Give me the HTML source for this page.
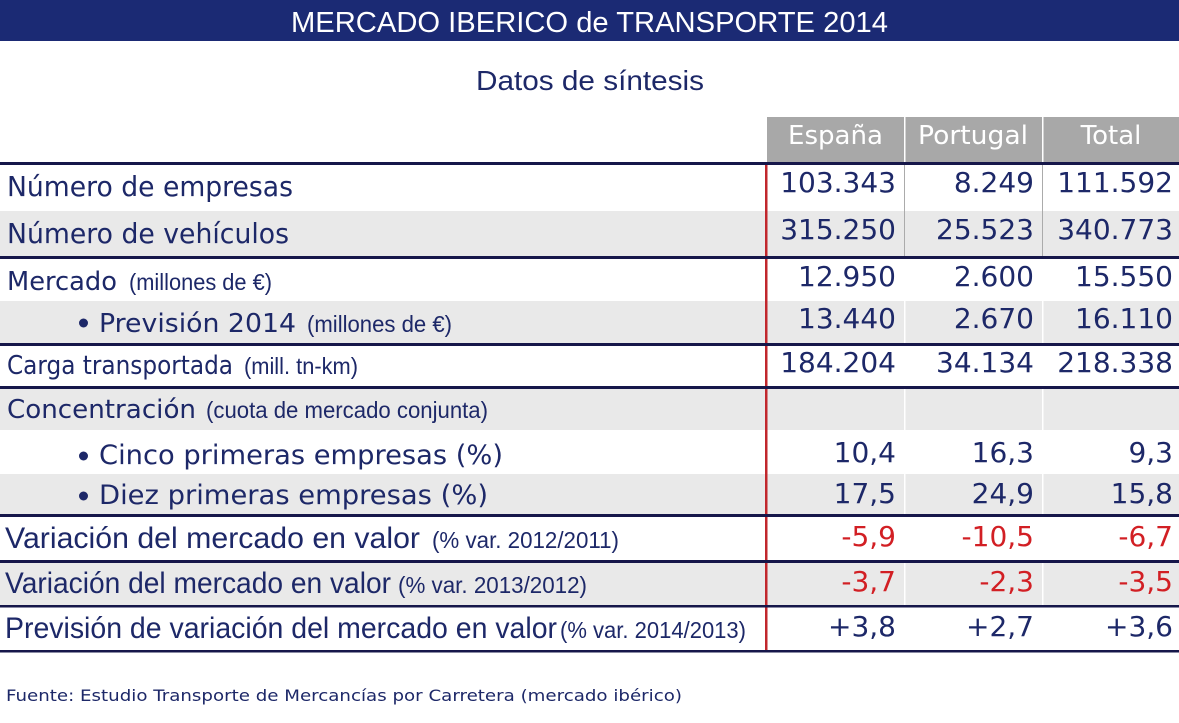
<!DOCTYPE html>
<html>
<head>
<meta charset="utf-8">
<style>
html,body{margin:0;padding:0;background:#fff;}
svg{display:block;}
.v{font-family:"DejaVu Sans","Liberation Sans",sans-serif;fill:#1d2868;}
.a{font-family:"Liberation Sans",sans-serif;fill:#1d2868;}
.n{font-family:"DejaVu Sans","Liberation Sans",sans-serif;fill:#1d2868;font-size:28px;}
.r{fill:#d21f24;}
.h{font-family:"DejaVu Sans","Liberation Sans",sans-serif;fill:#ffffff;font-size:26px;}
</style>
</head>
<body>
<svg width="1179" height="723" viewBox="0 0 1179 723" xmlns="http://www.w3.org/2000/svg">
<rect x="0" y="0" width="1179" height="723" fill="#ffffff"/>
<!-- title bar -->
<rect x="0" y="0" width="1179" height="41" fill="#1b2a74"/>
<text x="291" y="32" font-family="Liberation Sans, sans-serif" font-size="29" fill="#ffffff" textLength="597" lengthAdjust="spacingAndGlyphs">MERCADO IBERICO de TRANSPORTE 2014</text>
<text class="a" x="476" y="90" font-size="28" textLength="228" lengthAdjust="spacingAndGlyphs">Datos de síntesis</text>

<!-- header cells -->
<rect x="767" y="117" width="137" height="45" fill="#a8a8a8"/>
<rect x="905.5" y="117" width="136.5" height="45" fill="#a8a8a8"/>
<rect x="1043.5" y="117" width="135.5" height="45" fill="#a8a8a8"/>
<text class="h" x="788" y="144" textLength="95" lengthAdjust="spacingAndGlyphs">España</text>
<text class="h" x="918" y="144" textLength="110" lengthAdjust="spacingAndGlyphs">Portugal</text>
<text class="h" x="1111" y="144" text-anchor="middle" font-size="27">Total</text>

<!-- grey bands -->
<rect x="0" y="211" width="1179" height="45" fill="#e9e9e9"/>
<rect x="0" y="301" width="1179" height="42" fill="#e9e9e9"/>
<rect x="0" y="389" width="1179" height="41" fill="#e9e9e9"/>
<rect x="0" y="474" width="1179" height="40" fill="#e9e9e9"/>
<rect x="0" y="563" width="1179" height="42" fill="#e9e9e9"/>

<!-- column separators -->
<rect x="904" y="165" width="1" height="91" fill="#ababab"/>
<rect x="1042" y="165" width="1" height="91" fill="#ababab"/>
<rect x="904" y="259" width="1.5" height="391" fill="#ffffff"/>
<rect x="1042" y="259" width="1.5" height="391" fill="#ffffff"/>

<!-- red vertical -->
<rect x="765" y="162" width="2.5" height="490" fill="#c1272d"/>

<!-- thick lines -->
<g fill="#16174a">
<rect x="0" y="162" width="1179" height="3"/>
<rect x="0" y="256" width="1179" height="3"/>
<rect x="0" y="343" width="1179" height="3"/>
<rect x="0" y="386" width="1179" height="3"/>
<rect x="0" y="514" width="1179" height="3"/>
<rect x="0" y="560" width="1179" height="3"/>
<rect x="0" y="605" width="1179" height="2.5"/>
<rect x="0" y="650" width="1179" height="2.5"/>
</g>

<!-- labels -->
<text class="v" x="7" y="196" font-size="28" textLength="286" lengthAdjust="spacingAndGlyphs">Número de empresas</text>
<text class="v" x="7" y="243" font-size="28" textLength="282" lengthAdjust="spacingAndGlyphs">Número de vehículos</text>

<text class="v" x="7" y="290" font-size="26" textLength="110" lengthAdjust="spacingAndGlyphs">Mercado</text>
<text class="a" x="129" y="290" font-size="23" textLength="143" lengthAdjust="spacingAndGlyphs">(millones de €)</text>

<circle cx="83.5" cy="323" r="4.5" fill="#1d2868"/>
<text class="v" x="99" y="332" font-size="26" textLength="197" lengthAdjust="spacingAndGlyphs">Previsión 2014</text>
<text class="a" x="307" y="332" font-size="23" textLength="145" lengthAdjust="spacingAndGlyphs">(millones de €)</text>

<text class="v" x="7" y="374" font-size="26" textLength="226" lengthAdjust="spacingAndGlyphs">Carga transportada</text>
<text class="a" x="244" y="374" font-size="23" textLength="114" lengthAdjust="spacingAndGlyphs">(mill. tn-km)</text>

<text class="v" x="7" y="418" font-size="26" textLength="189" lengthAdjust="spacingAndGlyphs">Concentración</text>
<text class="a" x="206" y="418" font-size="23" textLength="282" lengthAdjust="spacingAndGlyphs">(cuota de mercado conjunta)</text>

<circle cx="83.5" cy="456" r="4.5" fill="#1d2868"/>
<text class="v" x="99" y="464" font-size="27" textLength="404" lengthAdjust="spacingAndGlyphs">Cinco primeras empresas (%)</text>
<circle cx="83.5" cy="496" r="4.5" fill="#1d2868"/>
<text class="v" x="99" y="504" font-size="27" textLength="389" lengthAdjust="spacingAndGlyphs">Diez primeras empresas (%)</text>

<text class="a" x="5" y="548" font-size="30" textLength="415" lengthAdjust="spacingAndGlyphs">Variación del mercado en valor</text>
<text class="a" x="432" y="548" font-size="23" textLength="187" lengthAdjust="spacingAndGlyphs">(% var. 2012/2011)</text>

<text class="a" x="5" y="593" font-size="30" textLength="386" lengthAdjust="spacingAndGlyphs">Variación del mercado en valor</text>
<text class="a" x="398" y="593" font-size="23" textLength="189" lengthAdjust="spacingAndGlyphs">(% var. 2013/2012)</text>

<text class="a" x="5" y="638" font-size="30" textLength="552" lengthAdjust="spacingAndGlyphs">Previsión de variación del mercado en valor</text>
<text class="a" x="560" y="638" font-size="23" textLength="186" lengthAdjust="spacingAndGlyphs">(% var. 2014/2013)</text>

<!-- numbers -->
<g class="n" text-anchor="end">
<text x="896" y="192">103.343</text>
<text x="1034" y="192">8.249</text>
<text x="1173" y="192">111.592</text>

<text x="896" y="239">315.250</text>
<text x="1034" y="239">25.523</text>
<text x="1173" y="239">340.773</text>

<text x="896" y="286">12.950</text>
<text x="1034" y="286">2.600</text>
<text x="1173" y="286">15.550</text>

<text x="896" y="328">13.440</text>
<text x="1034" y="328">2.670</text>
<text x="1173" y="328">16.110</text>

<text x="896" y="372">184.204</text>
<text x="1034" y="372">34.134</text>
<text x="1173" y="372">218.338</text>

<text x="896" y="462">10,4</text>
<text x="1034" y="462">16,3</text>
<text x="1173" y="462">9,3</text>

<text x="896" y="503">17,5</text>
<text x="1034" y="503">24,9</text>
<text x="1173" y="503">15,8</text>

<text class="r" x="896" y="546">-5,9</text>
<text class="r" x="1034" y="546">-10,5</text>
<text class="r" x="1173" y="546">-6,7</text>

<text class="r" x="896" y="591">-3,7</text>
<text class="r" x="1034" y="591">-2,3</text>
<text class="r" x="1173" y="591">-3,5</text>

<text x="896" y="636">+3,8</text>
<text x="1034" y="636">+2,7</text>
<text x="1173" y="636">+3,6</text>
</g>

<!-- footer -->
<text class="v" x="6" y="701" font-size="16" textLength="676" lengthAdjust="spacingAndGlyphs">Fuente: Estudio Transporte de Mercancías por Carretera (mercado ibérico)</text>
</svg>
</body>
</html>
